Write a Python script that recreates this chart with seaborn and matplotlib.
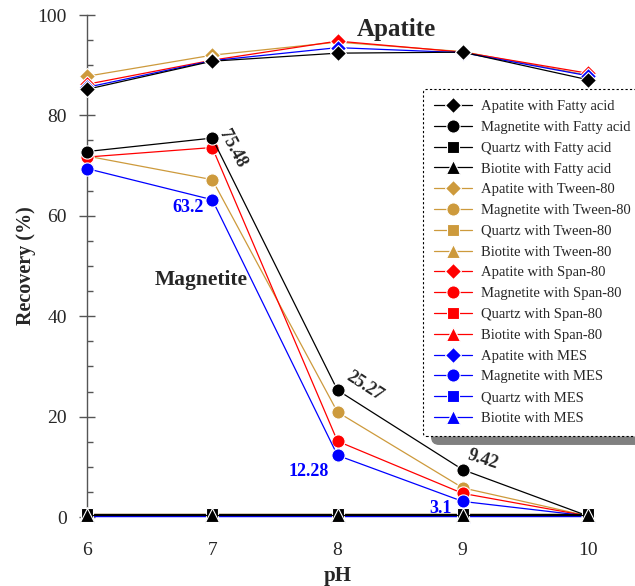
import numpy as np
import pandas as pd
import matplotlib
matplotlib.use("Agg")
import matplotlib.pyplot as plt
import seaborn as sns
from matplotlib.patches import FancyBboxPatch
from matplotlib.ticker import MultipleLocator

# ---------------- data ----------------
ph = [6, 7, 8, 9, 10]

apatite_fatty = [85.2, 90.8, 92.4, 92.6, 87.1]
apatite_tween = [87.8, 92.0, 94.6, 92.7, 88.0]
apatite_span = [86.2, 91.0, 94.8, 92.6, 88.4]
apatite_mes = [85.6, 90.9, 93.5, 92.5, 87.9]

magnetite_fatty = [72.8, 75.48, 25.27, 9.42, 0.2]
magnetite_tween = [71.9, 67.2, 20.9, 5.8, 0.2]
magnetite_span = [71.7, 73.6, 15.1, 4.7, 0.2]
magnetite_mes = [69.4, 63.2, 12.28, 3.1, 0.2]

quartz_fatty = [0.5, 0.5, 0.5, 0.5, 0.5]
quartz_tween = [0.6, 0.6, 0.6, 0.6, 0.6]
quartz_span = [0.4, 0.4, 0.4, 0.4, 0.4]
quartz_mes = [0.1, 0.1, 0.1, 0.1, 0.1]

biotite_fatty = [0.3, 0.3, 0.3, 0.3, 0.3]
biotite_tween = [0.5, 0.5, 0.5, 0.5, 0.5]
biotite_span = [0.3, 0.3, 0.3, 0.3, 0.3]
biotite_mes = [0.1, 0.1, 0.1, 0.1, 0.1]

reagents = ["Fatty acid", "Tween-80", "Span-80", "MES"]
minerals = ["Apatite", "Magnetite", "Quartz", "Biotite"]
values = {
    ("Apatite", "Fatty acid"): apatite_fatty,
    ("Apatite", "Tween-80"): apatite_tween,
    ("Apatite", "Span-80"): apatite_span,
    ("Apatite", "MES"): apatite_mes,
    ("Magnetite", "Fatty acid"): magnetite_fatty,
    ("Magnetite", "Tween-80"): magnetite_tween,
    ("Magnetite", "Span-80"): magnetite_span,
    ("Magnetite", "MES"): magnetite_mes,
    ("Quartz", "Fatty acid"): quartz_fatty,
    ("Quartz", "Tween-80"): quartz_tween,
    ("Quartz", "Span-80"): quartz_span,
    ("Quartz", "MES"): quartz_mes,
    ("Biotite", "Fatty acid"): biotite_fatty,
    ("Biotite", "Tween-80"): biotite_tween,
    ("Biotite", "Span-80"): biotite_span,
    ("Biotite", "MES"): biotite_mes,
}

colors = {"Fatty acid": "black", "Tween-80": "#CD9A3C", "Span-80": "#FF0000", "MES": "#0000FF"}
markers = {"Apatite": "D", "Magnetite": "o", "Quartz": "s", "Biotite": "^"}
msizes = {"Apatite": 8.0, "Magnetite": 9.5, "Quartz": 8.5, "Biotite": 9.5}

# ---------------- style ----------------
sns.set_style("ticks")
plt.rcParams["font.family"] = ["Liberation Serif", "DejaVu Serif"]

fig = plt.figure(figsize=(6.35, 5.86), dpi=100)
ax = fig.add_axes([87 / 635, 1 - 517 / 586, (588 - 87) / 635, (517 - 15) / 586])

draw_order = ["Tween-80", "Span-80", "MES", "Fatty acid"]
handles = {}
z = 3
for reag in draw_order:
    for mineral in minerals:
        df = pd.DataFrame({"pH": ph, "rec": values[(mineral, reag)]})
        sns.lineplot(data=df, x="pH", y="rec", ax=ax, color=colors[reag],
                     marker=markers[mineral], markersize=msizes[mineral],
                     markeredgecolor="white", markeredgewidth=0.8,
                     linewidth=0.9, clip_on=False, zorder=z,
                     label=f"{mineral} with {reag}", legend=False)
        handles[(mineral, reag)] = ax.lines[-1]
        z += 0.1
    z += 1

ax.set_xlim(6, 10)
ax.set_ylim(0, 100)
ax.set_xticks(ph)
ax.yaxis.set_major_locator(MultipleLocator(20))
ax.yaxis.set_minor_locator(MultipleLocator(5))

for s in ["top", "right", "bottom"]:
    ax.spines[s].set_visible(False)
ax.spines["left"].set_color("#555555")
ax.spines["left"].set_linewidth(1.0)

ax.tick_params(axis="y", which="major", direction="inout", length=11, width=1.0,
               color="#555555", labelsize=14, pad=9)
ax.tick_params(axis="y", which="minor", direction="in", length=4, width=1.0,
               color="#555555")
ax.tick_params(axis="x", which="major", direction="out", length=3, width=1.0,
               color="#777777", labelsize=14, pad=15)

ax.set_xlabel("pH", fontsize=15, fontweight="bold", labelpad=5)
ax.set_ylabel("Recovery (%)", fontsize=14.5, fontweight="bold", labelpad=1)

# ---------------- annotations ----------------
ax.text(8.47, 97.2, "Apatite", fontsize=18, fontweight="bold", ha="center", va="center")
ax.text(6.91, 47.2, "Magnetite", fontsize=15.5, fontweight="bold", ha="center", va="center")
ax.text(7.16, 73.3, "75.48", fontsize=13, fontweight="bold", ha="center", va="center", rotation=-62)
ax.text(8.22, 26.1, "25.27", fontsize=13, fontweight="bold", ha="center", va="center", rotation=-33)
ax.text(9.16, 11.5, "9.42", fontsize=13, fontweight="bold", ha="center", va="center", rotation=-18)
ax.text(6.93, 61.6, "63.2", fontsize=13, fontweight="bold", color="#0000FF", ha="right", va="center")
ax.text(7.93, 9.0, "12.28", fontsize=13, fontweight="bold", color="#0000FF", ha="right", va="center")
ax.text(8.91, 1.7, "3.1", fontsize=13, fontweight="bold", color="#0000FF", ha="right", va="center")

# ---------------- legend ----------------
leg_order = [(m, r) for r in reagents for m in minerals]
leg = fig.legend([handles[k] for k in leg_order], [f"{m} with {r}" for m, r in leg_order],
                 loc="upper left", bbox_to_anchor=(423 / 635, 1 - 89 / 586),
                 fontsize=10.5, frameon=True, fancybox=True, handlelength=2.6,
                 handletextpad=0.6, labelspacing=0.52, borderpad=0.75,
                 borderaxespad=0)
frame = leg.get_frame()
frame.set_edgecolor("black")
frame.set_facecolor("white")
frame.set_linestyle((0, (2, 2)))
frame.set_linewidth(0.8)
frame.set_alpha(1)
leg.set_zorder(20)

fig.canvas.draw()
bb = leg.get_window_extent()
shadow = FancyBboxPatch((bb.x0 + 8, bb.y0 - 9), bb.width, bb.height,
                        boxstyle="round,pad=0,rounding_size=8",
                        transform=None, facecolor="#808080", edgecolor="none",
                        zorder=19)
fig.add_artist(shadow)

fig.savefig("out.png", dpi=100)
